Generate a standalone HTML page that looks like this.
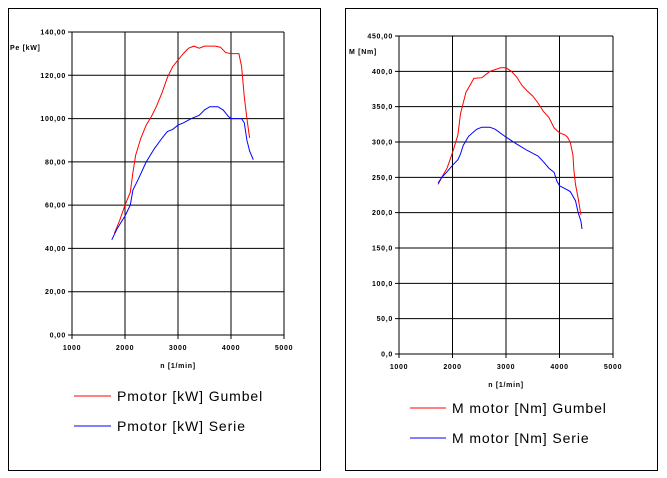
<!DOCTYPE html>
<html><head><meta charset="utf-8"><style>
html,body{margin:0;padding:0;background:#fff;}
svg{display:block;font-family:"Liberation Sans",sans-serif;}
.t{font-size:7px;font-weight:bold;fill:#000;letter-spacing:0.7px}
.l{font-size:14px;fill:#000;letter-spacing:0.9px}
</style></head><body>
<svg id="s" width="667" height="478" viewBox="0 0 667 478" xmlns="http://www.w3.org/2000/svg">
<rect x="8.5" y="8.5" width="312" height="462" fill="none" stroke="#000"/>
<rect x="345.5" y="8.5" width="312" height="462" fill="none" stroke="#000"/>
<g id="g"></g>
<line x1="74" y1="396" x2="111" y2="396" stroke="#f00"/>
<text class="l" x="117" y="401">Pmotor [kW] Gumbel</text>
<line x1="74" y1="426" x2="111" y2="426" stroke="#00f"/>
<text class="l" x="117" y="431">Pmotor [kW] Serie</text>
<line x1="410" y1="408" x2="446" y2="408" stroke="#f00"/>
<text class="l" x="452" y="413">M motor [Nm] Gumbel</text>
<line x1="410" y1="438" x2="446" y2="438" stroke="#00f"/>
<text class="l" x="452" y="443">M motor [Nm] Serie</text>
</svg>
<script>
var g=document.getElementById('g'),h='';
function chart(x0,x1,yt,yb,ymax,ystep,dec,ylab,ylx,series){
 var X=function(v){return x0+(v-1000)/4000*(x1-x0)},Y=function(v){return yb-v/ymax*(yb-yt)};
 for(var v=0;v<=ymax+1e-6;v+=ystep){var y=Y(v);h+='<line x1="'+(x0-4)+'" y1="'+y+'" x2="'+x1+'" y2="'+y+'" stroke="#000"/>';
  var d=(v==ymax&&dec==1)?2:dec;
  h+='<text class="t" x="'+(x0-6)+'" y="'+(y+2.5)+'" text-anchor="end">'+v.toFixed(d).replace('.',',')+'</text>';}
 for(var r=1000;r<=5000;r+=1000){var x=X(r);h+='<line x1="'+x+'" y1="'+yt+'" x2="'+x+'" y2="'+(yb+4)+'" stroke="#000"/>';
  h+='<text class="t" x="'+x+'" y="'+(yb+15)+'" text-anchor="middle">'+r+'</text>';}
 h+='<text class="t" x="'+ylx+'" y="'+(Y(ymax)+18)+'">'+ylab+'</text>';
 h+='<text class="t" x="'+((x0+x1)/2)+'" y="'+(yb+33)+'" text-anchor="middle">n [1/min]</text>';
 series.forEach(function(s){h+='<polyline fill="none" stroke="'+s[0]+'" stroke-width="1" points="'+s[1].map(function(p){return X(p[0]).toFixed(1)+','+Y(p[1]).toFixed(1)}).join(' ')+'"/>';});
}
chart(72,284,32,335,140,20,2,'Pe [kW]',10,[
['#f00',[[1800,47],[1900,53],[2000,60],[2100,66],[2150,75],[2200,83],[2300,91],[2400,97],[2500,101],[2600,106],[2700,112],[2800,119],[2900,124],[3000,127],[3100,130],[3200,132.5],[3300,133.5],[3400,132.5],[3500,133.5],[3700,133.5],[3800,133],[3900,130.5],[4000,130],[4150,130],[4200,124],[4250,110],[4300,100],[4350,91]]],
['#00f',[[1750,44],[1850,49],[2000,55],[2100,60],[2150,67],[2250,72],[2400,80],[2550,86],[2700,91],[2800,94],[2900,95],[3000,97],[3100,98],[3250,100],[3400,101.5],[3500,104],[3600,105.5],[3750,105.5],[3850,104],[3950,101],[4000,100],[4200,100],[4250,98],[4300,90],[4350,85],[4420,81]]]]);
chart(399,613,36,354,450,50,1,'M  [Nm]',349,[
['#f00',[[1730,240],[1800,250],[1900,263],[2000,285],[2100,310],[2150,340],[2200,355],[2250,370],[2400,390],[2550,391],[2700,400],[2900,405],[3000,405],[3100,400],[3200,392],[3300,380],[3400,372],[3500,365],[3600,355],[3700,343],[3800,335],[3900,320],[4000,313],[4100,310],[4150,307],[4200,300],[4250,282],[4270,260],[4300,240],[4350,220],[4400,197]]],
['#00f',[[1730,242],[1800,250],[1900,258],[2000,267],[2100,275],[2150,283],[2200,295],[2300,308],[2450,318],[2550,321],[2700,321],[2800,318],[3000,307],[3200,297],[3400,288],[3600,280],[3700,272],[3800,263],[3900,257],[3950,245],[4000,238],[4100,234],[4200,230],[4300,217],[4350,200],[4400,188],[4420,177]]]]);
g.innerHTML=h;
</script>
</body></html>
